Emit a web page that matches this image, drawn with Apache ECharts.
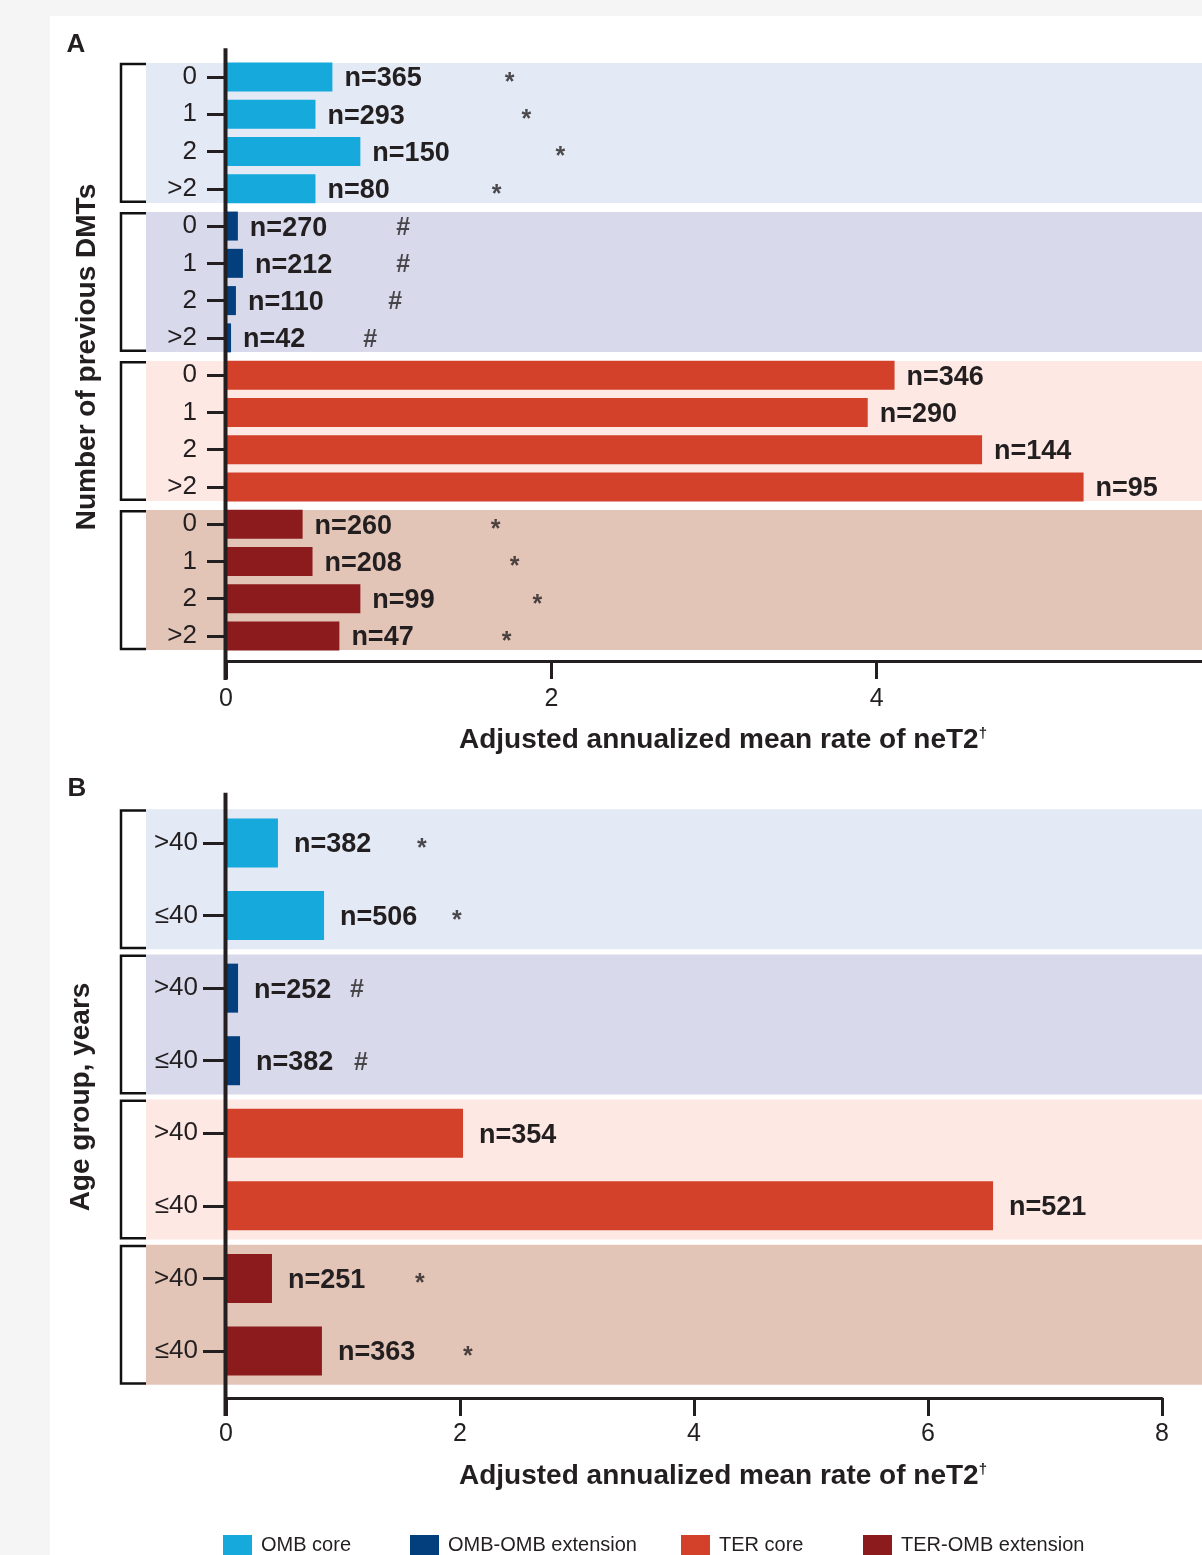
<!DOCTYPE html>
<html><head><meta charset="utf-8">
<script src="https://cdn.jsdelivr.net/npm/echarts@6/dist/echarts.min.js"></script>
<style>
html,body{margin:0;padding:0;overflow:hidden;background:#f5f5f5;width:1202px;height:1555px;}
#card{position:absolute;left:50px;top:16px;width:1152px;height:1539px;background:#fff;}
#chart{position:absolute;left:0;top:0;width:1202px;height:1555px;}
</style></head><body>
<div id="card"></div><div id="chart"></div>
<script>
// ---------- data ----------
const seriesNames = ['OMB core', 'OMB-OMB extension', 'TER core', 'TER-OMB extension'];

// Panel A: number of previous DMTs
const dmtCategories = ['0', '1', '2', '>2'];
const dmtOmbCore = [0.654, 0.550, 0.826, 0.550];
const dmtOmbOmb = [0.073, 0.104, 0.061, 0.031];
const dmtTerCore = [4.110, 3.945, 4.648, 5.272];
const dmtTerOmb = [0.471, 0.532, 0.826, 0.697];
const dmtOmbCoreN = [365, 293, 150, 80];
const dmtOmbOmbN = [270, 212, 110, 42];
const dmtTerCoreN = [346, 290, 144, 95];
const dmtTerOmbN = [260, 208, 99, 47];
// significance markers (x position in rate units)
const dmtOmbCoreSigX = [1.743, 1.847, 2.055, 1.664];
const dmtOmbOmbSigX = [1.089, 1.089, 1.040, 0.887];
const dmtTerCoreSigX = null;
const dmtTerOmbSigX = [1.657, 1.774, 1.914, 1.725];

// Panel B: age group
const ageCategories = ['>40', '≤40'];
const ageOmbCore = [0.444, 0.838];
const ageOmbOmb = [0.103, 0.120];
const ageTerCore = [2.026, 6.556];
const ageTerOmb = [0.393, 0.820];
const ageOmbCoreN = [382, 506];
const ageOmbOmbN = [252, 382];
const ageTerCoreN = [354, 521];
const ageTerOmbN = [251, 363];
const ageOmbCoreSigX = [1.675, 1.974];
const ageOmbOmbSigX = [1.120, 1.154];
const ageTerCoreSigX = null;
const ageTerOmbSigX = [1.658, 2.068];

const sigSymbols = ['*', '#', '', '*'];
const xTickInterval = 2;
const xMaxA = 6;
const xMaxB = 8;

// ---------- style ----------
const FONT = '"Liberation Sans", Arial, Helvetica, sans-serif';
const INK = '#231f20';
const seriesColors = ['#15a9dc', '#033f7c', '#d3412b', '#8b1b1d'];
const bandColors = ['#e3e9f5', '#d9d9ec', '#fde8e4', '#e3c5b8'];

function buildPanel(g, cats, vals, ns, sigX, barWidth, labelDist) {
  const k = cats.length;
  const yData = [];
  vals.forEach(() => yData.push(...cats));
  const series = [];
  // background bands + brackets
  series.push({
    type: 'custom', xAxisIndex: g, yAxisIndex: g, silent: true, z: 1, clip: false,
    encode: { x: 0, y: 1 },
    data: vals.map((v, s) => [0, s * k, s * k + k - 1, s]),
    renderItem: function (params, api) {
      const p1 = api.coord([0, api.value(1)]);
      const p2 = api.coord([0, api.value(2)]);
      const mid = (p1[1] + p2[1]) / 2;
      const half = 70;
      const x0 = p1[0] - 80;
      const xb = x0 - 25;
      return {
        type: 'group',
        children: [
          { type: 'rect', shape: { x: x0, y: mid - half, width: api.getWidth() - x0, height: 2 * half },
            style: { fill: bandColors[api.value(3)] } },
          { type: 'polyline', shape: { points: [[x0, mid - half + 1.2], [xb, mid - half + 1.2], [xb, mid + half - 1.2], [x0, mid + half - 1.2]] },
            style: { stroke: '#111', lineWidth: 2.5, fill: null } }
        ]
      };
    }
  });
  vals.forEach((arr, s) => {
    const data = new Array(vals.length * k).fill('-');
    arr.forEach((v, i) => { data[s * k + i] = v; });
    series.push({
      type: 'bar', name: seriesNames[s], xAxisIndex: g, yAxisIndex: g, stack: 'p' + g,
      barWidth: barWidth, data: data, z: 3, silent: true,
      itemStyle: { color: seriesColors[s] },
      label: {
        show: true, position: 'right', distance: labelDist, offset: [0, 2],
        formatter: p => 'n=' + ns[s][p.dataIndex - s * k],
        fontSize: 27, fontWeight: 'bold', color: INK, fontFamily: FONT
      }
    });
  });
  const marks = [];
  sigX.forEach((arr, s) => {
    if (!arr) return;
    arr.forEach((x, i) => {
      const sym = sigSymbols[s];
      marks.push({
        value: [x, s * k + i],
        label: { formatter: sym, fontSize: sym === '*' ? 25 : 25, offset: [0, sym === '*' ? 6 : 2] }
      });
    });
  });
  series.push({
    type: 'scatter', xAxisIndex: g, yAxisIndex: g, silent: true, z: 4,
    symbolSize: 1, itemStyle: { color: 'transparent' },
    label: { show: true, position: 'inside', fontWeight: 'bold', color: INK, fontFamily: FONT },
    data: marks
  });
  return { yData, series };
}

const panelA = buildPanel(0, dmtCategories,
  [dmtOmbCore, dmtOmbOmb, dmtTerCore, dmtTerOmb],
  [dmtOmbCoreN, dmtOmbOmbN, dmtTerCoreN, dmtTerOmbN],
  [dmtOmbCoreSigX, dmtOmbOmbSigX, dmtTerCoreSigX, dmtTerOmbSigX], 29, 12);
const panelB = buildPanel(1, ageCategories,
  [ageOmbCore, ageOmbOmb, ageTerCore, ageTerOmb],
  [ageOmbCoreN, ageOmbOmbN, ageTerCoreN, ageTerOmbN],
  [ageOmbCoreSigX, ageOmbOmbSigX, ageTerCoreSigX, ageTerOmbSigX], 49, 16);

const catA = (636 - 77) / 15, catB = (1351 - 843) / 7;
const gridA = { left: 226, top: 77 - catA / 2, width: 163.5 * xMaxA, height: catA * 16 };
const gridB = { left: 226, top: 843 - catB / 2, width: 117 * xMaxB, height: catB * 8 };
const offA = 661 - (gridA.top + gridA.height);
const offB = 1398 - (gridB.top + gridB.height);

function xAxisCfg(g, max, off, margin, hideMax) {
  return {
    type: 'value', gridIndex: g, min: 0, max: max, interval: xTickInterval, offset: off, z: 5,
    axisLine: { show: true, lineStyle: { color: INK, width: 3 } },
    axisTick: { show: true, length: 18, lineStyle: { color: INK, width: 3 } },
    axisLabel: { fontSize: 25, color: INK, fontFamily: FONT, margin: margin, showMaxLabel: !hideMax },
    splitLine: { show: false }
  };
}
function yAxisCfg(g, data, tickLen, margin) {
  return {
    type: 'category', gridIndex: g, inverse: true, data: data, z: 5,
    axisLine: { show: false },
    axisTick: { show: true, length: tickLen, alignWithLabel: true, interval: 0, lineStyle: { color: INK, width: 3 } },
    axisLabel: { fontSize: 26, color: INK, fontFamily: FONT, margin: margin, interval: 0 },
    splitLine: { show: false }
  };
}

const legendX = [223, 410, 681, 863];

const chart = echarts.init(document.getElementById('chart'), null, { renderer: 'canvas' });
chart.setOption({
  backgroundColor: 'transparent',
  animation: false,
  textStyle: { fontFamily: FONT },
  grid: [gridA, gridB],
  xAxis: [xAxisCfg(0, xMaxA, offA, 26, true), xAxisCfg(1, xMaxB, offB, 24, false)],
  yAxis: [yAxisCfg(0, panelA.yData, 19, 29), yAxisCfg(1, panelB.yData, 23, 28)],
  legend: seriesNames.map((n, i) => ({
    data: [n], left: legendX[i], top: 1535, itemWidth: 29, itemHeight: 20, icon: 'rect',
    padding: 0, selectedMode: false,
    textStyle: { fontSize: 20, color: INK, fontFamily: FONT, padding: [0, 0, 0, 4] }
  })),
  series: panelA.series.concat(panelB.series)
});

// axis lines (vertical) and texts
const x0A = chart.convertToPixel({ xAxisIndex: 0 }, 0);
const x0B = chart.convertToPixel({ xAxisIndex: 1 }, 0);
const titleRich = {
  m: { fontSize: 28, fontWeight: 'bold', fontFamily: FONT, fill: INK, verticalAlign: 'bottom' },
  s: { fontSize: 15, fontWeight: 'bold', fontFamily: FONT, fill: INK, verticalAlign: 'top' }
};
chart.setOption({
  graphic: [
    { type: 'line', z: 10, shape: { x1: x0A - 0.5, y1: gridA.top - 10, x2: x0A - 0.5, y2: 661 + 19 },
      style: { stroke: INK, lineWidth: 4 } },
    { type: 'line', z: 10, shape: { x1: x0B - 0.5, y1: gridB.top - 14, x2: x0B - 0.5, y2: 1398 + 18 },
      style: { stroke: INK, lineWidth: 4 } },
    { type: 'text', x: 76, y: 45, z: 10, style: { text: 'A', fontSize: 26, fontWeight: 'bold', fontFamily: FONT, fill: INK, align: 'center', verticalAlign: 'middle' } },
    { type: 'text', x: 77, y: 789, z: 10, style: { text: 'B', fontSize: 26, fontWeight: 'bold', fontFamily: FONT, fill: INK, align: 'center', verticalAlign: 'middle' } },
    { type: 'text', x: 723, y: 740, z: 10, style: { text: '{m|Adjusted annualized mean rate of neT2}{s|†}', rich: titleRich, align: 'center', verticalAlign: 'middle' } },
    { type: 'text', x: 723, y: 1476, z: 10, style: { text: '{m|Adjusted annualized mean rate of neT2}{s|†}', rich: titleRich, align: 'center', verticalAlign: 'middle' } },
    { type: 'text', x: 87, y: 357, rotation: Math.PI / 2, z: 10, style: { text: 'Number of previous DMTs', fontSize: 28, fontWeight: 'bold', fontFamily: FONT, fill: INK, align: 'center', verticalAlign: 'middle' } },
    { type: 'text', x: 81, y: 1097, rotation: Math.PI / 2, z: 10, style: { text: 'Age group, years', fontSize: 28, fontWeight: 'bold', fontFamily: FONT, fill: INK, align: 'center', verticalAlign: 'middle' } }
  ]
});
</script></body></html>
